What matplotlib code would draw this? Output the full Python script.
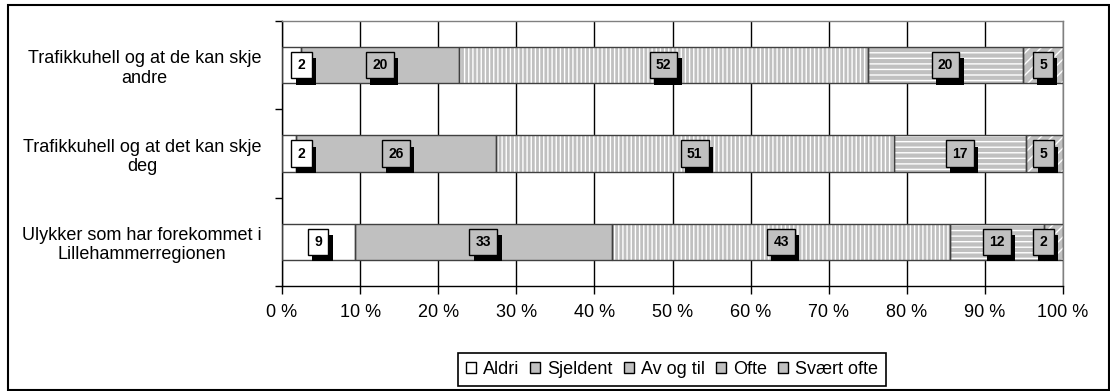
import matplotlib
matplotlib.use('Agg')
import matplotlib.pyplot as plt
import matplotlib.patheffects as pe
from matplotlib.patches import Patch, Rectangle
import numpy as np

plt.rcParams['font.family'] = ['Liberation Sans', 'DejaVu Sans']
plt.rcParams['hatch.linewidth'] = 1.0

# ---- data (top-to-bottom order) ----
categories = ["Trafikkuhell og at de kan skje\nandre",
              "Trafikkuhell og at det kan skje\ndeg",
              "Ulykker som har forekommet i\nLillehammerregionen"]
series_names = ["Aldri", "Sjeldent", "Av og til", "Ofte", "Svært ofte"]
aldri = [2.4, 1.8, 9.3]
sjeldent = [20.3, 25.6, 33.0]
av_og_til = [52.3, 50.9, 43.2]
ofte = [19.9, 17.0, 12.1]
svaert_ofte = [5.1, 4.7, 2.4]
xtick_values = [0, 10, 20, 30, 40, 50, 60, 70, 80, 90, 100]
xtick_labels = ["0 %", "10 %", "20 %", "30 %", "40 %", "50 %",
                "60 %", "70 %", "80 %", "90 %", "100 %"]

series = [np.array(s, dtype=float) for s in (aldri, sjeldent, av_og_til, ofte, svaert_ofte)]
total = sum(series)
series_pct = [s / total * 100 for s in series]

fills = ['white', '#c0c0c0', '#c0c0c0', '#c0c0c0', '#c0c0c0']
hatches = [None, None, '||||', '---', '///']
label_bg = ['white', '#c0c0c0', '#c0c0c0', '#c0c0c0', '#c0c0c0']

W, H = 1110, 391
fig = plt.figure(figsize=(W / 100, H / 100), dpi=100)
ax = fig.add_axes([282 / W, 1 - 286 / H, (1063 - 282) / W, (286 - 21) / H])

y = np.arange(len(categories))
left = np.zeros(len(categories))
bar_h = 0.41
for vals, raw, fc, h, lbg in zip(series_pct, series, fills, hatches, label_bg):
    ax.barh(y, vals, left=left, height=bar_h, color=fc,
            edgecolor='white' if h else fc, linewidth=0, hatch=h, zorder=2)
    ax.barh(y, vals, left=left, height=bar_h, fill=False,
            edgecolor='#404040', linewidth=1.0, zorder=3)
    for yi, v, l, r in zip(y, vals, left, raw):
        xc = min(max(l + v / 2, 2.5), 97.5)
        t = ax.text(xc, yi, f"{round(r)}", ha='center', va='center',
                    fontsize=10, fontweight='bold', zorder=6,
                    bbox=dict(boxstyle='square,pad=0.45', fc=lbg, ec='black', lw=1))
        t.get_bbox_patch().set_path_effects([
            pe.SimplePatchShadow(offset=(3, -4.5), shadow_rgbFace='black', alpha=1.0),
            pe.Normal()])
    left = left + vals

ax.set_xlim(0, 100)
ax.set_ylim(len(categories) - 0.5, -0.5)
ax.set_axisbelow(True)
ax.xaxis.grid(True, color='black', linewidth=1.0)

ax.set_xticks(xtick_values)
ax.set_xticklabels(xtick_labels)
ax.tick_params(axis='x', direction='out', length=6, width=1, colors='black',
               labelsize=13, pad=7)

ax.set_yticks(y)
ax.set_yticklabels(categories)
ax.tick_params(axis='y', which='major', length=0, pad=15, labelsize=13)
for tl in ax.get_yticklabels():
    tl.set_multialignment('center')
ax.set_yticks(np.arange(-0.5, len(categories), 1.0), minor=True)
ax.tick_params(axis='y', which='minor', direction='out', length=5, width=1, color='black')

for s in ('top', 'right'):
    ax.spines[s].set_color('#808080')
    ax.spines[s].set_linewidth(1.0)
for s in ('left', 'bottom'):
    ax.spines[s].set_color('black')
    ax.spines[s].set_linewidth(1.0)

handles = [Patch(facecolor=fc, edgecolor='black', linewidth=1.0) for fc in fills]
leg = fig.legend(handles, series_names, loc='center',
                 bbox_to_anchor=(672 / W, 1 - 369.5 / H), ncol=5,
                 frameon=True, fancybox=False, edgecolor='black', fontsize=13,
                 handlelength=0.55, handleheight=0.55, handletextpad=0.4,
                 columnspacing=0.6, borderpad=0.45, framealpha=1)
leg.get_frame().set_linewidth(1.2)

fig.patches.append(Rectangle((8 / W, 1.5 / H), (1108.5 - 8) / W, (389.5 - 5) / H,
                             transform=fig.transFigure, fill=False,
                             edgecolor='black', linewidth=1.5))

fig.savefig('out.png', dpi=100)
